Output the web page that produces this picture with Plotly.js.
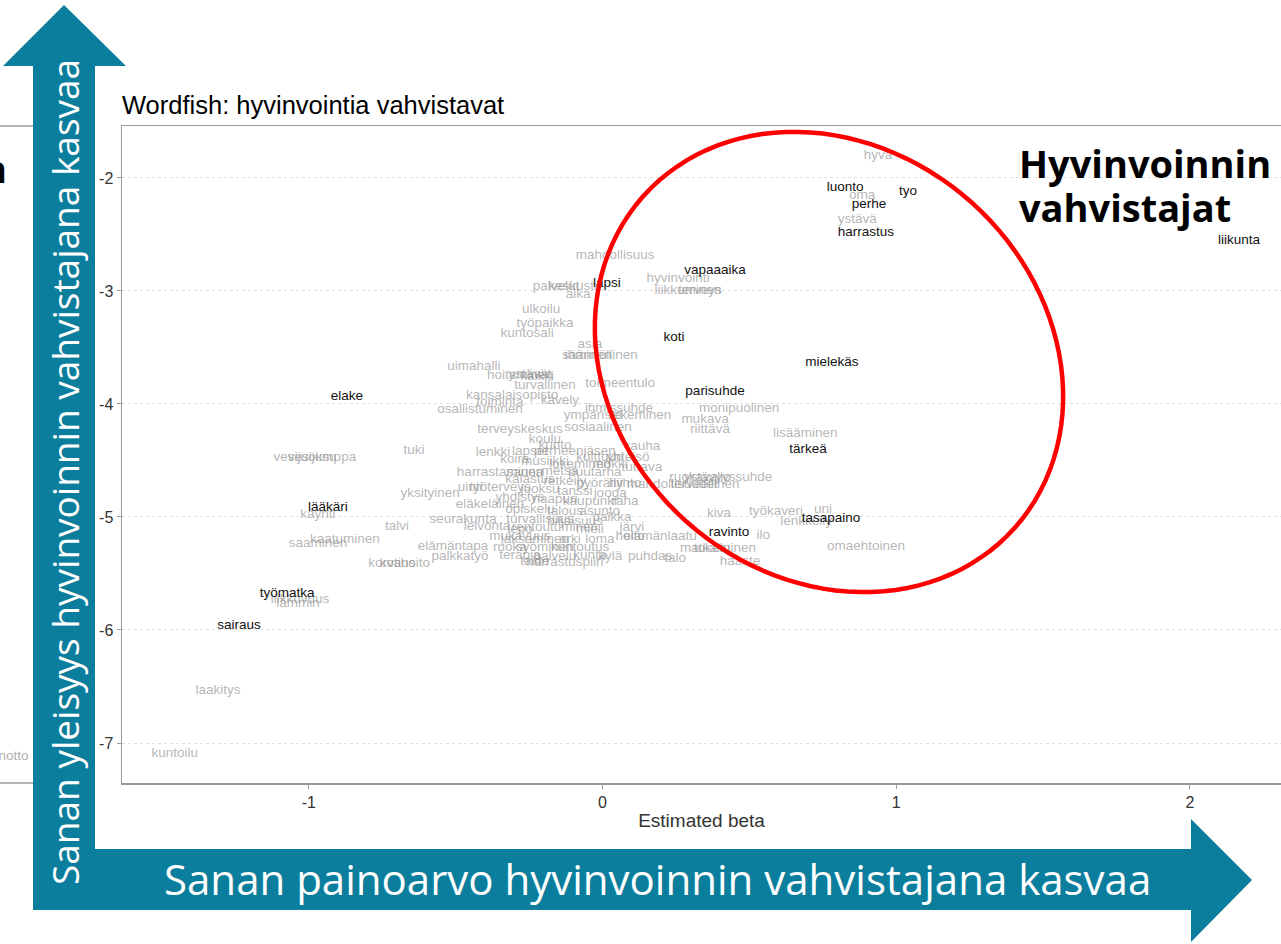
<!DOCTYPE html>
<html><head><meta charset="utf-8">
<script src="https://cdn.plot.ly/plotly-3.0.1.min.js"></script>
<style>html,body{margin:0;padding:0;background:#fff}#chart{width:1281px;height:944px}</style>
</head><body><div id="chart"></div>
<script>
// ---- data (estimated beta, estimated psi) ----
const blackWords = ["liikunta","tyo","luonto","perhe","harrastus","vapaaaika","lapsi","koti","mielekäs","parisuhde","tärkeä","tasapaino","ravinto","elake","lääkäri","työmatka","sairaus"];
const blackBeta  = [2.167,1.040,0.826,0.907,0.897,0.383,0.015,0.243,0.781,0.383,0.700,0.778,0.431,-0.870,-0.935,-1.074,-1.238];
const blackPsi   = [-2.558,-2.124,-2.088,-2.239,-2.487,-2.823,-2.938,-3.416,-3.637,-3.894,-4.407,-5.018,-5.142,-3.938,-4.920,-5.681,-5.965];

const grayWords = ["hyvä","oma","ystävä","mahdollisuus","hyvinvointi","liikkuminen","terveys","palvelut","keskusta","aika","ulkoilu","työpaikka","kuntosali","asia","säännöllinen","ihminen","uimahalli","hoitaminen","ystävät","kaikki","turvallinen","toimeentulo","kansalaisopisto","toiminta","kävely","osallistuminen","ihmissuhde","ympäristö","tekeminen","sosiaalinen","monipuolinen","mukava","riittävä","lisääminen","tuki","vesijumppa","vesijuoksu","yksityinen","käynti","talvi","kaatuminen","saaminen","korvaus","kotihoito","palkkatyö","elämäntapa","lämmin","liikkuvuus","laakitys","kuntoilu","paikka","järvi","hoito","elämänlaatu","puhdas","talo","kiva","työkaveri","uni","lenkkeily","ilo","omaehtoinen","matkailu","tukeminen","haaste","ruokavalio","ystävyyssuhde","mahdollisuudet","terveellinen","rauha","yhteisö","tuttava","lenkki","harrastaminen","uinti","työterveys","eläkeläinen","seurakunta","leivonta","mukavuus","kylä","terveyskeskus","koulu","kunto","lapset","perheenjäsen","kulttuuri","koira","musiikki","lukeminen","mökki","sauna","metsä","puutarha","kalastus","retkeily","pyöräily","hiihto","juoksu","tanssi","jooga","yhdistys","naapuri","kaupunki","raha","opiskelu","talous","asunto","turvallisuus","hiljaisuus","lepo","rentoutuminen","mieli","jaksaminen","arki","loma","ruoka","syöminen","kuntoutus","terapia","palvelu","kunta","taide","harrastuspiiri"];
const grayBeta = [0.938,0.884,0.867,0.043,0.257,0.291,0.332,-0.158,-0.094,-0.083,-0.209,-0.196,-0.257,-0.043,-0.009,-0.049,-0.438,-0.281,-0.247,-0.223,-0.196,0.060,-0.308,-0.349,-0.145,-0.417,0.056,-0.032,0.128,-0.015,0.465,0.349,0.366,0.690,-0.642,-0.955,-1.013,-0.587,-0.969,-0.700,-0.877,-0.969,-0.717,-0.673,-0.485,-0.509,-1.037,-1.030,-1.309,-1.456,0.032,0.100,0.094,0.196,0.162,0.247,0.397,0.591,0.751,0.693,0.547,0.897,0.349,0.417,0.468,0.332,0.427,0.237,0.349,0.138,0.087,0.134,-0.373,-0.349,-0.451,-0.349,-0.383,-0.475,-0.393,-0.281,0.026,-0.281,-0.196,-0.162,-0.247,-0.094,-0.009,-0.298,-0.196,-0.077,0.026,-0.264,-0.145,-0.026,-0.247,-0.128,-0.009,0.077,-0.213,-0.094,0.026,-0.281,-0.162,-0.043,0.077,-0.247,-0.128,-0.009,-0.213,-0.094,-0.281,-0.162,-0.043,-0.230,-0.111,-0.009,-0.315,-0.196,-0.077,-0.281,-0.162,-0.043,-0.230,-0.128];
const grayPsi = [-1.805,-2.159,-2.372,-2.690,-2.894,-3.000,-3.000,-2.965,-2.965,-3.035,-3.168,-3.292,-3.381,-3.478,-3.575,-3.575,-3.673,-3.752,-3.743,-3.761,-3.841,-3.823,-3.929,-3.991,-3.973,-4.053,-4.044,-4.106,-4.106,-4.212,-4.044,-4.142,-4.230,-4.265,-4.416,-4.478,-4.478,-4.796,-4.982,-5.088,-5.204,-5.239,-5.416,-5.416,-5.354,-5.265,-5.770,-5.735,-6.540,-7.097,-5.009,-5.097,-5.177,-5.177,-5.354,-5.372,-4.973,-4.956,-4.938,-5.044,-5.168,-5.265,-5.283,-5.283,-5.398,-4.655,-4.655,-4.717,-4.717,-4.381,-4.478,-4.566,-4.434,-4.611,-4.743,-4.743,-4.894,-5.027,-5.088,-5.177,-5.354,-4.230,-4.319,-4.372,-4.425,-4.425,-4.478,-4.496,-4.513,-4.540,-4.540,-4.611,-4.602,-4.611,-4.673,-4.690,-4.708,-4.708,-4.761,-4.779,-4.796,-4.832,-4.850,-4.867,-4.867,-4.938,-4.956,-4.956,-5.027,-5.044,-5.115,-5.097,-5.115,-5.204,-5.204,-5.204,-5.274,-5.274,-5.274,-5.345,-5.354,-5.345,-5.398,-5.407];

const xTicks = [-1, 0, 1, 2];
const yTicks = [-2, -3, -4, -5, -6, -7];
const chartTitle = "Wordfish: hyvinvointia vahvistavat";
const xTitle = "Estimated beta";
const boxTitle1 = "Hyvinvoinnin";
const boxTitle2 = "vahvistajat";
const arrowY = "Sanan yleisyys hyvinvoinnin vahvistajana kasvaa";
const arrowX = "Sanan painoarvo hyvinvoinnin vahvistajana kasvaa";

// ---- page geometry (pixels) ----
const W = 1281, H = 944, L = 122, T = 126, BOT = 783, R = 1281;
const PX = px => (px - L) / (R - L);
const PY = py => (BOT - py) / (BOT - T);
const teal = '#0a7e9c';

// L-shaped double arrow
const arrowPts = [[33,910],[33,66],[3,66],[64,5],[126,66],[95,66],[95,849],[1191,849],[1191,819],[1252,880],[1191,942],[1191,910]];
const arrowPath = 'M ' + arrowPts.map(p => PX(p[0]).toFixed(5) + ',' + PY(p[1]).toFixed(5)).join(' L ') + ' Z';

// tilted ellipse (pixels)
const ec = [829, 362], ea = 249, eb = 214, eth = 41.7 * Math.PI / 180;
let ell = [];
for (let i = 0; i <= 120; i++) {
  const t = 2 * Math.PI * i / 120;
  const x = ec[0] + ea * Math.cos(t) * Math.cos(eth) - eb * Math.sin(t) * Math.sin(eth);
  const y = ec[1] + ea * Math.cos(t) * Math.sin(eth) + eb * Math.sin(t) * Math.cos(eth);
  ell.push(PX(x).toFixed(5) + ',' + PY(y).toFixed(5));
}
const ellPath = 'M ' + ell.join(' L ') + ' Z';

const textFont = 'Liberation Sans, Arial, sans-serif';

const traces = [
  {type:'scatter', mode:'text', x: grayBeta, y: grayPsi, text: grayWords,
   textposition:'middle center', cliponaxis:false,
   textfont:{family:textFont, size:13.5, color:'rgba(140,140,140,0.65)'}, hoverinfo:'skip', showlegend:false},
  {type:'scatter', mode:'text', x: blackBeta, y: blackPsi, text: blackWords,
   textposition:'middle center', cliponaxis:false,
   textfont:{family:textFont, size:13.5, color:'#111'}, hoverinfo:'skip', showlegend:false}
];

const layout = {
  width: W, height: H,
  margin: {l: L, r: W - R, t: T, b: H - BOT, pad: 0},
  paper_bgcolor: '#fff', plot_bgcolor: '#fff',
  showlegend: false,
  title: {text: chartTitle, font:{family:textFont, size:25.5, color:'#000'},
          x: L / W, xref:'container', xanchor:'left', y: 1 - 105 / H, yref:'container', yanchor:'middle'},
  xaxis: {range:[-1.636, 2.310], tickvals: xTicks, ticktext: xTicks.map(String),
          showgrid:false, zeroline:false, showline:true, mirror:true, linecolor:'#9a9a9a', linewidth:1.5,
          ticks:'outside', ticklen:4, tickcolor:'#9a9a9a', tickfont:{family:textFont, size:16, color:'#333'},
          title:{text: xTitle, font:{family:textFont, size:19, color:'#333'}, standoff:4}, automargin:false},
  yaxis: {range:[-7.354, -1.540], tickvals: yTicks, ticktext: yTicks.map(String),
          showgrid:true, gridcolor:'#e0e0e0', griddash:'dot', gridwidth:1, zeroline:false,
          showline:true, linecolor:'#9a9a9a', linewidth:1.5,
          ticks:'outside', ticklen:4, tickcolor:'#9a9a9a', tickfont:{family:textFont, size:16, color:'#333'}, automargin:false},
  shapes: [
    {type:'line', xref:'paper', yref:'paper', x0:PX(0), x1:PX(33), y0:PY(126), y1:PY(126), line:{color:'#9a9a9a', width:1.5}},
    {type:'line', xref:'paper', yref:'paper', x0:PX(0), x1:PX(33), y0:PY(783), y1:PY(783), line:{color:'#9a9a9a', width:1.5}},
    {type:'path', xref:'paper', yref:'paper', path: ellPath, line:{color:'#ff0000', width:4.5}, fillcolor:'rgba(0,0,0,0)'},
    {type:'path', xref:'paper', yref:'paper', path: arrowPath, line:{width:0}, fillcolor: teal, layer:'above'}
  ],
  annotations: [
    {xref:'paper', yref:'paper', x:PX(1017), y:PY(163), xanchor:'left', yanchor:'middle', showarrow:false,
     text:'<b>' + boxTitle1 + '</b>', font:{family:'Open Sans, sans-serif', size:38, color:'#000'}},
    {xref:'paper', yref:'paper', x:PX(1017), y:PY(207), xanchor:'left', yanchor:'middle', showarrow:false,
     text:'<b>' + boxTitle2 + '</b>', font:{family:'Open Sans, sans-serif', size:38, color:'#000'}},
    {xref:'paper', yref:'paper', x:PX(9), y:PY(168), xanchor:'right', yanchor:'middle', showarrow:false,
     text:'<b>n</b>', font:{family:'Open Sans, sans-serif', size:38, color:'#000'}},
    {xref:'paper', yref:'paper', x:PX(31), y:PY(755), xanchor:'right', yanchor:'middle', showarrow:false,
     text:'anotto', font:{family:textFont, size:13.5, color:'rgba(140,140,140,0.7)'}},
    {xref:'paper', yref:'paper', x:PX(64), y:PY(472), xanchor:'center', yanchor:'middle', showarrow:false, textangle:-90,
     text: arrowY, font:{family:'Open Sans, sans-serif', size:37, color:'#fff'}},
    {xref:'paper', yref:'paper', x:PX(657), y:PY(878), xanchor:'center', yanchor:'middle', showarrow:false,
     text: arrowX, font:{family:'Open Sans, sans-serif', size:42, color:'#fff'}}
  ]
};

Plotly.newPlot('chart', traces, layout, {displayModeBar:false, staticPlot:true});
</script>
</body></html>
